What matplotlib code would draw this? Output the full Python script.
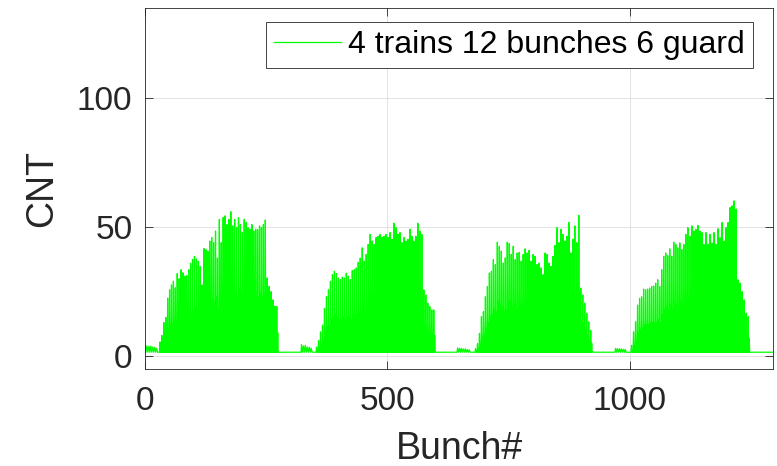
import numpy as np
import matplotlib
matplotlib.use("Agg")
import matplotlib.pyplot as plt

plt.rcParams['font.family'] = ['Liberation Sans', 'DejaVu Sans']

# peak counts of the tall spikes in each train
peaks1 = [5.5, 8, 13, 15, 22.5, 25.7, 27.6, 29, 26.5, 32, 30, 33.5, 32.3, 31, 31.2, 33.5,
          36, 37.4, 38.7, 37.7, 36.8, 34.8, 27.6, 41.7, 41.3, 40.7, 44.6, 46, 44, 48.5, 38,
          53, 44, 53.7, 54.4, 51, 53, 56, 50.5, 53, 49.8, 53.7, 51, 48, 53, 51.8, 49.8, 49.2,
          51, 48.5, 49.2, 49, 50.5, 49.8, 51, 52.8, 30.3, 27, 25, 21.8, 19.4, 19.2]
peaks2 = [3.5, 6, 9.4, 12, 18.5, 23, 25.7, 29, 31.6, 32.9, 32, 30.3, 29.6, 30.6, 30.3, 32.2,
          31, 29.6, 33.2, 33.5, 34.2, 36.4, 38, 42, 36.8, 39.4, 43.3, 47.2, 44.6, 43.3, 46,
          46.5, 47.2, 46, 46.5, 47.2, 46, 47.9, 45.3, 51.5, 49.8, 47.2, 47.9, 44, 46, 44.6,
          45.3, 49.2, 46.5, 44.6, 46.5, 51.5, 48.5, 47.2, 25.7, 23.7, 20.5, 19.2, 17.9, 17.9]
peaks3 = [2.9, 4.8, 8.8, 15.3, 17.2, 23, 27, 32.2, 32.9, 37.4, 35.5, 44.2, 42.6, 40.7, 36.1,
          38.1, 44.2, 43.7, 39.4, 42.6, 37.4, 40, 40.2, 36.8, 39.4, 41.6, 40, 41, 36.8, 39.4,
          38.7, 35.5, 36.1, 34.2, 31.6, 40, 39.4, 36.1, 34.8, 38.7, 42.9, 49.8, 44, 49.2, 47.2,
          44.6, 46.5, 51.8, 40, 45.3, 50.5, 44, 54.6, 26.4, 23.7, 20.5, 16.6, 13.3, 10]
peaks4 = [4.2, 9.4, 13.3, 19.8, 22.4, 23, 26, 25.7, 26, 26.4, 27, 27.2, 28.3, 29.6, 27, 33.5,
          38.7, 40, 39, 41.6, 38.7, 44.2, 43.3, 42, 43.9, 41.3, 43.3, 47.2, 49.8, 46.5, 50.5,
          48.5, 49.2, 50.7, 48.5, 47.9, 43.3, 47.9, 43.3, 47.2, 43.9, 47.9, 43.3, 49.4, 45.9,
          51.8, 44.6, 49.8, 51.8, 57.6, 58.3, 60.2, 57, 29.6, 28.3, 25, 21.8, 16.6, 15.3]

# the lower bunches between the tall spikes (top of the dense part)
fill1 = [3, 4, 6, 8, 10, 12, 13, 14, 12, 15, 14, 16, 15, 15, 14, 16, 17, 18, 19, 18,
         17, 16, 13, 20, 19, 20, 21, 22, 21, 23, 18, 25, 21, 26, 26, 24, 25, 27, 24, 25,
         23, 26, 24, 22, 25, 24, 23, 23, 24, 22, 23, 23, 24, 23, 24, 25, 14, 13, 12, 10, 9, 9]
fill2 = [2, 3, 4, 6, 9, 11, 12, 14, 15, 16, 15, 14, 14, 15, 14, 15, 15, 14, 16, 16,
         16, 17, 18, 20, 17, 19, 21, 22, 21, 20, 22, 22, 23, 22, 22, 23, 22, 23, 21, 24,
         24, 22, 23, 21, 22, 21, 22, 23, 22, 21, 22, 24, 23, 22, 12, 11, 10, 9, 8, 8]
fill3 = [2, 2, 4, 7, 8, 11, 13, 15, 16, 18, 17, 21, 20, 19, 17, 18, 21, 21, 19, 20,
         18, 19, 19, 18, 19, 20, 19, 20, 18, 19, 18, 17, 17, 16, 15, 19, 19, 17, 17, 18,
         20, 23, 21, 23, 22, 21, 22, 24, 19, 21, 24, 21, 25, 12, 11, 10, 8, 6, 5]
fill4 = [2, 4, 6, 9, 10, 11, 12, 12, 12, 13, 13, 13, 13, 14, 13, 16, 18, 19, 18, 20,
         18, 21, 20, 20, 21, 19, 20, 22, 23, 22, 24, 23, 23, 24, 23, 22, 20, 22, 20, 22,
         21, 22, 20, 23, 22, 24, 21, 23, 24, 27, 27, 28, 27, 14, 13, 12, 10, 8, 7]

# small bumps just before each train
bump1 = [4.2, 4.0, 3.8, 3.9, 3.5, 3.4, 3.0]
bump2 = [4.5, 4.0, 4.2, 3.5, 3.5, 3.0]
bump3 = [3.2, 3.0, 3.0, 2.8, 2.8, 2.5, 2.5]
bump4 = [3.0, 2.9, 2.8, 2.8, 2.6, 2.6]

train_start = [31, 354, 682, 1004]
bump_start = [0, 323, 645, 971]
baseline = 1.5
n_bunch = 1296

spacing = [3.95, 4.1, 4.1, 4.15]

xs, ys = [], []
for b0, bump, t0, sp, peaks, fill in zip(bump_start, [bump1, bump2, bump3, bump4],
                                          train_start, spacing,
                                          [peaks1, peaks2, peaks3, peaks4],
                                          [fill1, fill2, fill3, fill4]):
    xs.append(max(b0 - 1, 0))
    ys.append(baseline)
    for i, v in enumerate(bump):
        x0 = b0 + 4 * i
        xs += [x0, x0 + 2]
        ys += [v, baseline]
    xs.append(t0 - 1)
    ys.append(baseline)
    # each tall spike is followed by one lower bunch
    for p, f in zip(peaks, fill):
        xs += [t0, t0 + sp * 0.25, t0 + sp * 0.5, t0 + sp * 0.75]
        ys += [p, baseline, min(f, p), baseline]
        t0 += sp
xs.append(n_bunch)
ys.append(baseline)

fig = plt.figure(figsize=(7.77, 4.66), dpi=100)
ax = fig.add_axes([0.1866, 0.2082, 0.8083, 0.7746])

ax.plot(xs, ys, color=(0, 1, 0), linewidth=0.9, label='4 trains 12 bunches 6 guard')

ax.set_xlim(0, n_bunch)
ax.set_ylim(-5, 135)
ax.set_xticks([0, 500, 1000])
ax.set_yticks([0, 50, 100])
ax.grid(True, color='#dedede', linewidth=0.6)
ax.set_axisbelow(True)

axcol = '#262626'
for s in ax.spines.values():
    s.set_color(axcol)
    s.set_linewidth(0.6)
ax.tick_params(direction='in', length=6, width=0.6, colors=axcol, labelsize=24,
               top=True, right=True)
ax.tick_params(axis='y', pad=9)
ax.tick_params(axis='x', pad=12)
ax.set_xlabel('Bunch#', fontsize=27, color=axcol, labelpad=10)
ax.set_ylabel('CNT', fontsize=27, color=axcol, labelpad=12)

leg = ax.legend(loc='upper right', bbox_to_anchor=(753 / 777, 444 / 466),
                bbox_transform=fig.transFigure, borderaxespad=0, fontsize=23,
                fancybox=False, framealpha=1, edgecolor=axcol, handlelength=2.1,
                borderpad=0.25, handletextpad=0.22)
leg.get_frame().set_linewidth(0.6)

fig.savefig('out.png', dpi=100)
